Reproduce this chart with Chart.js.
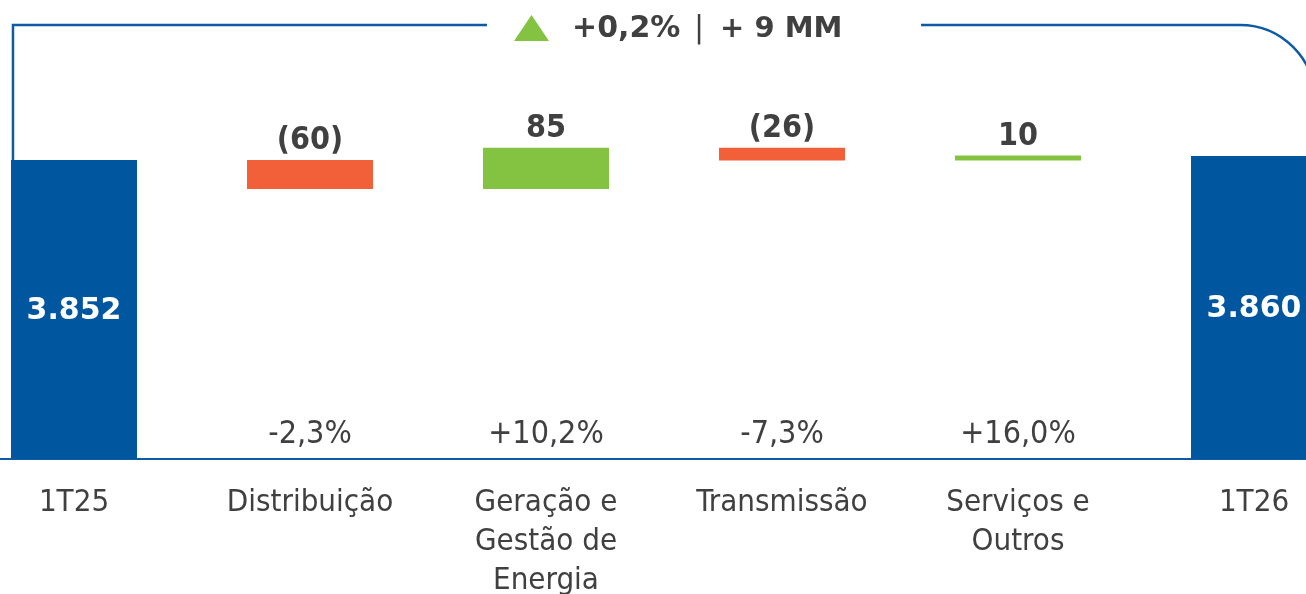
<!DOCTYPE html>
<html>
<head>
<meta charset="utf-8">
<script src="https://cdn.jsdelivr.net/npm/chart.js@4"></script>
<style>
  html, body { margin: 0; padding: 0; background: #fff; overflow: hidden; }
  #wrap { position: relative; width: 1306px; height: 594px; overflow: hidden; }
  #chart { position: absolute; left: -44px; top: 0; }
</style>
</head>
<body>
<div id="wrap"><canvas id="chart" width="1416" height="594"></canvas></div>
<script>
// waterfall data (R$ MM)
const categories = ['1T25', 'Distribuição', ['Geração e', 'Gestão de', 'Energia'], 'Transmissão', ['Serviços e', 'Outros'], '1T26'];
const totals = [3852, null, null, null, null, 3860];
const deltas = [null, -60, 85, -26, 10, null];
const valueLabels = ['3.852', '(60)', '85', '(26)', '10', '3.860'];
const pctLabels = ['', '-2,3%', '+10,2%', '-7,3%', '+16,0%', ''];
const headline = ['+0,2%', '|', '+ 9 MM'];
const axisMin = 3233;
const axisMax = 4183;

const BLUE = '#0057a0';
const LINE = '#0f5aa4';
const ORANGE = '#f26039';
const GREEN = '#84c341';
const TEXT = '#404040';

// build floating ranges from the running total
let running = totals[0];
const ranges = categories.map((c, i) => {
    if (totals[i] !== null) { running = totals[i]; return [axisMin, totals[i]]; }
    const start = running;
    running += deltas[i];
    return [start, running];
});
const colors = categories.map((c, i) => totals[i] !== null ? BLUE : (deltas[i] < 0 ? ORANGE : GREEN));

const labelsPlugin = {
    id: 'labels',
    afterDatasetsDraw(chart) {
        const ctx = chart.ctx;
        const meta = chart.getDatasetMeta(0);
        const xScale = chart.scales.x;
        ctx.save();
        ctx.textAlign = 'center';
        meta.data.forEach((bar, i) => {
            if (totals[i] !== null) {
                ctx.fillStyle = '#fff';
                ctx.font = 'bold 30px "DejaVu Sans"';
                ctx.textBaseline = 'middle';
                ctx.fillText(valueLabels[i], bar.x, (bar.y + bar.base) / 2 + 2);
            } else {
                const top = Math.min(bar.y, bar.base);
                ctx.fillStyle = TEXT;
                ctx.font = 'bold 32px "DejaVu Sans Condensed"';
                ctx.textBaseline = 'alphabetic';
                ctx.fillText(valueLabels[i], bar.x, top - 11);
                ctx.font = '32px "DejaVu Sans Condensed"';
                ctx.textBaseline = 'middle';
                ctx.fillText(pctLabels[i], xScale.getPixelForValue(i), xScale.top - 24);
            }
        });

        // bracket with headline
        const first = meta.data[0];
        const left = first.x - first.width / 2 + 2;
        const y = 25, r = 75;
        ctx.strokeStyle = LINE;
        ctx.lineWidth = 2.5;
        ctx.beginPath();
        ctx.moveTo(left, first.y);
        ctx.lineTo(left, y);
        ctx.lineTo(531, y);
        ctx.moveTo(965, y);
        ctx.lineTo(1284, y);
        ctx.arc(1284, y + r, r, -Math.PI / 2, 0);
        ctx.stroke();

        ctx.fillStyle = GREEN;
        ctx.beginPath();
        ctx.moveTo(558, 41);
        ctx.lineTo(593, 41);
        ctx.lineTo(575.5, 15);
        ctx.closePath();
        ctx.fill();

        ctx.fillStyle = TEXT;
        ctx.textBaseline = 'middle';
        ctx.textAlign = 'left';
        ctx.font = 'bold 30px "DejaVu Sans"';
        ctx.fillText(headline[0], 616, 29);
        ctx.font = '30px "DejaVu Sans"';
        ctx.fillText(headline[1], 738, 29);
        ctx.font = 'bold 29px "DejaVu Sans"';
        ctx.fillText(headline[2], 764, 29);
        ctx.restore();
    }
};

new Chart(document.getElementById('chart'), {
    type: 'bar',
    data: {
        labels: categories,
        datasets: [{
            data: ranges,
            backgroundColor: colors,
            borderWidth: 0,
            borderSkipped: false,
            barPercentage: 0.534,
            categoryPercentage: 1
        }]
    },
    options: {
        responsive: false,
        animation: false,
        devicePixelRatio: 1,
        layout: { padding: 0 },
        plugins: { legend: { display: false }, tooltip: { enabled: false } },
        scales: {
            x: {
                grid: { display: false, drawTicks: false },
                border: { display: true, color: LINE, width: 2 },
                afterFit: (scale) => { scale.height = 135; },
                ticks: {
                    color: TEXT,
                    padding: 24,
                    maxRotation: 0,
                    autoSkip: false,
                    font: { family: 'DejaVu Sans Condensed', size: 31, lineHeight: 1.26 }
                }
            },
            y: {
                display: false,
                min: axisMin,
                max: axisMax
            }
        }
    },
    plugins: [labelsPlugin]
});
</script>
</body>
</html>
